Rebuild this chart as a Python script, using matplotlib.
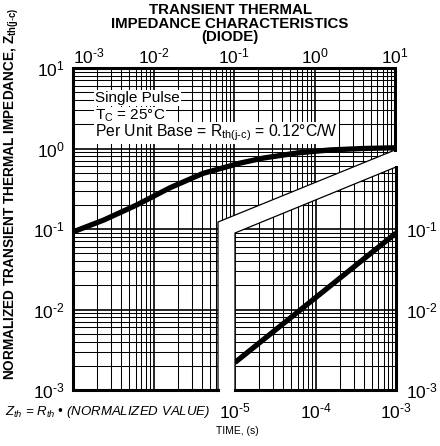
import numpy as np
import matplotlib
matplotlib.use('Agg')
import matplotlib.pyplot as plt
from matplotlib.patches import Polygon
from matplotlib.ticker import FixedLocator, FuncFormatter, NullLocator

plt.rcParams['font.family'] = ['Liberation Sans', 'DejaVu Sans']
plt.rcParams['mathtext.fontset'] = 'custom'
plt.rcParams['mathtext.rm'] = 'Liberation Sans'
plt.rcParams['mathtext.it'] = 'Liberation Sans:italic'
plt.rcParams['mathtext.bf'] = 'Liberation Sans:bold'
plt.rcParams['axes.unicode_minus'] = False

# single pulse curve, t = 1 ms .. 10 s (upper scale)
t_main = [1e-3, 2.4e-3, 6.2e-3, 1.6e-2, 4.1e-2, 0.12, 0.23, 0.61, 1.56, 4.0, 10.0]
z_main = [0.092, 0.129, 0.199, 0.325, 0.49, 0.66, 0.76, 0.88, 0.96, 1.0, 1.02]

# single pulse curve, t = 10 us .. 1 ms (lower scale)
t_low = [1e-5, 1e-4, 1e-3]
z_low = [0.0022, 0.014, 0.089]

main_xticks = [1e-3, 1e-2, 1e-1, 1e0, 1e1]
main_yticks = [1e-3, 1e-2, 1e-1, 1e0, 1e1]
low_xticks = [1e-5, 1e-4, 1e-3]
low_yticks = [1e-3, 1e-2, 1e-1]

W, H = 440, 446
fig = plt.figure(figsize=(W / 100, H / 100), dpi=100)


def fy(py):
    return 1 - py / H


def pow_label(v, pos):
    e = int(round(np.log10(v)))
    if e < 0:
        return r'$\mathregular{10^{\text{-}%d}}$' % -e
    return r'$\mathregular{10^{%d}}$' % e


def log_grid(lo, hi):
    vals = []
    for e in range(int(np.log10(lo)), int(np.log10(hi))):
        vals += [m * 10.0 ** e for m in range(1, 10)]
    vals.append(hi)
    return np.array(vals)


def draw_grid(ax, xlo, xhi, ylo, yhi, clip):
    for vals, vert in [(log_grid(xlo, xhi), True), (log_grid(ylo, yhi), False)]:
        isdec = np.isclose(np.log10(vals), np.round(np.log10(vals)))
        for sel, lw in [(~isdec, 0.75), (isdec, 1.2)]:
            if vert:
                lc = ax.vlines(vals[sel], ylo, yhi, colors='k', lw=lw)
            else:
                lc = ax.hlines(vals[sel], xlo, xhi, colors='k', lw=lw)
            lc.set_clip_path(clip)


def style_axes(ax, xlim, ylim, xticks, yticks):
    ax.set_xscale('log')
    ax.set_yscale('log')
    ax.set_xlim(*xlim)
    ax.set_ylim(*ylim)
    for s in ax.spines.values():
        s.set_visible(False)
    ax.xaxis.set_major_locator(FixedLocator(xticks))
    ax.yaxis.set_major_locator(FixedLocator(yticks))
    ax.xaxis.set_minor_locator(NullLocator())
    ax.yaxis.set_minor_locator(NullLocator())
    ax.xaxis.set_major_formatter(FuncFormatter(pow_label))
    ax.yaxis.set_major_formatter(FuncFormatter(pow_label))
    ax.tick_params(length=0, labelsize=12.5)


# ---- upper (main) scale
ax = fig.add_axes([73 / W, 1 - 390 / H, 322 / W, 322 / H])
style_axes(ax, (1e-3, 1e1), (1e-3, 1e1), main_xticks, main_yticks)
ax.xaxis.tick_top()
ax.tick_params(axis='x', pad=1)
ax.tick_params(axis='y', pad=6)
ax.xaxis.get_major_ticks()[0].label2.set_horizontalalignment('left')

ya = (390 - 150) / 322
xb = (218 - 73) / 322
yb = (390 - 222) / 322
clip1 = Polygon([(0, 0), (0, 1), (1, 1), (1, ya), (xb, yb), (xb, 0)],
                closed=True, transform=ax.transAxes)
draw_grid(ax, 1e-3, 1e1, 1e-3, 1e1, clip1)
ax.plot([xb, 0, 0, 1, 1], [0, 0, 1, 1, ya], color='k', lw=2.2,
        transform=ax.transAxes, clip_on=False, solid_joinstyle='miter')
ax.plot([1, xb, xb], [ya, yb, 0], color='k', lw=0.9,
        transform=ax.transAxes, clip_on=False)
ax.plot(t_main, z_main, color='k', lw=3.8, solid_capstyle='butt')

# ---- lower scale
ax2 = fig.add_axes([235 / W, 1 - 390 / H, 161 / W, 322 / H])
ax2.patch.set_visible(False)
style_axes(ax2, (1e-5, 1e-3), (1e-3, 1e1), low_xticks, low_yticks)
ax2.yaxis.tick_right()
ax2.tick_params(axis='x', pad=8)
ax2.tick_params(axis='y', pad=7)

yl = (390 - 233) / 322
yr = (390 - 167) / 322
clip2 = Polygon([(0, 0), (1, 0), (1, yr), (0, yl)],
                closed=True, transform=ax2.transAxes)
draw_grid(ax2, 1e-5, 1e-3, 1e-3, 1e0, clip2)
ax2.plot([0, 1, 1], [0, 0, yr], color='k', lw=2.2,
         transform=ax2.transAxes, clip_on=False, solid_joinstyle='miter')
ax2.plot([1, 0, 0], [yr, yl, 0], color='k', lw=0.9,
         transform=ax2.transAxes, clip_on=False)
ax2.plot(t_low, z_low, color='k', lw=3.8, solid_capstyle='butt')

# ---- texts
box = dict(facecolor='white', edgecolor='none', pad=0.6)
ax.text(95 / W, fy(98), 'Single Pulse', transform=fig.transFigure,
        fontsize=11, va='center', bbox=box)
ax.text(95 / W, fy(116), r'T$_\mathregular{C}$ = 25°C', transform=fig.transFigure,
        fontsize=11, va='center', bbox=box)
ax.text(95 / W, fy(133), r'Per Unit Base = R$_\mathregular{th(j\text{-}c)}$ = 0.12°C/W',
        transform=fig.transFigure, fontsize=11.3, va='center', bbox=box)

for i, line in enumerate(['TRANSIENT THERMAL', 'IMPEDANCE CHARACTERISTICS', '(DIODE)']):
    fig.text(230 / W, fy(10 + 13.5 * i), line, ha='center', va='center',
             fontsize=10.8, fontweight='bold')

fig.text(12 / W, fy(194),
         r'NORMALIZED TRANSIENT THERMAL IMPEDANCE, $\mathbf{Z}_\mathregular{th(j\text{-}c)}$',
         rotation=90, ha='center', va='center', fontsize=9.8, fontweight='bold')
fig.text(5 / W, fy(412), r'$Z_{th}$ = $R_{th}$ • (NORMALIZED VALUE)',
         ha='left', va='center', fontsize=9.5, fontstyle='italic')
fig.text(237 / W, fy(431), 'TIME, (s)', ha='center', va='center', fontsize=7.5)

fig.savefig('out.png', dpi=100)
